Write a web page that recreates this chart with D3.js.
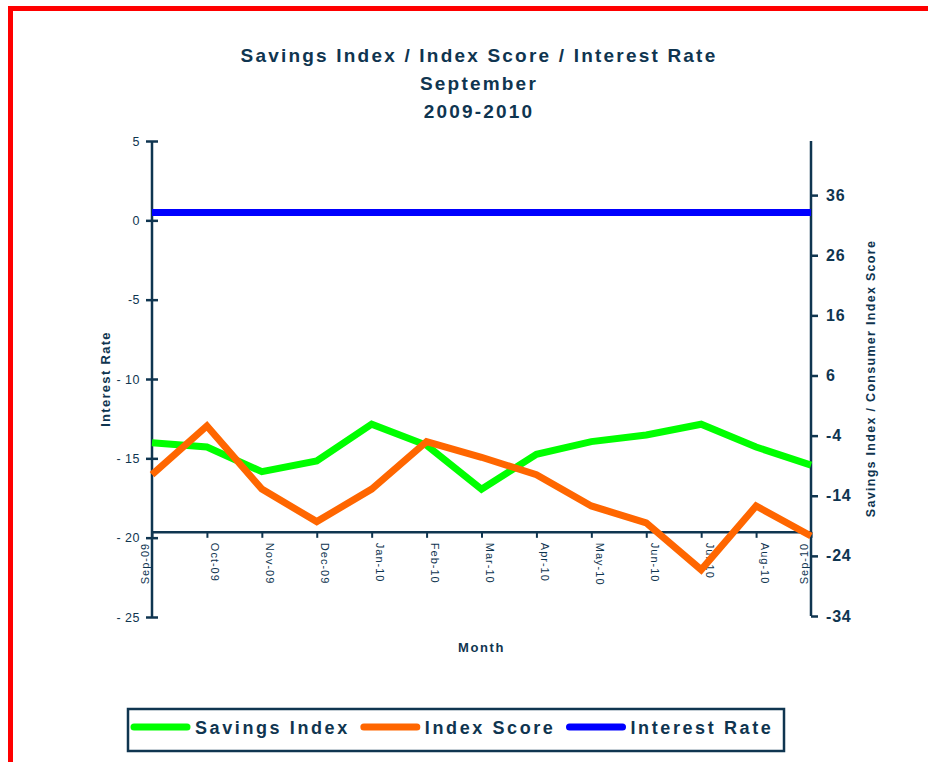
<!DOCTYPE html>
<html>
<head>
<meta charset="utf-8">
<script src="https://cdn.jsdelivr.net/npm/d3@7"></script>
<style>
  body { margin: 0; background: #fff; }
  svg { display: block; font-family: "Liberation Sans", Arial, sans-serif; }
</style>
</head>
<body>
<div class="chart"></div>
<script>
const months = ["Sep-09", "Oct-09", "Nov-09", "Dec-09", "Jan-10", "Feb-10", "Mar-10",
  "Apr-10", "May-10", "Jun-10", "Jul-10", "Aug-10", "Sep-10"];
const savingsIndex = [-5.2, -5.9, -10.0, -8.2, -2.1, -5.6, -12.9, -7.1, -5.0, -3.9, -2.1, -5.9, -8.9];
const indexScore = [-10.5, -2.4, -12.9, -18.3, -12.9, -5.0, -7.6, -10.5, -15.7, -18.5, -26.3, -15.7, -20.7];
const interestRate = [0.5, 0.5, 0.5, 0.5, 0.5, 0.5, 0.5, 0.5, 0.5, 0.5, 0.5, 0.5, 0.5];
const leftTicks = [5, 0, -5, -10, -15, -20, -25];
const rightTicks = [36, 26, 16, 6, -4, -14, -24, -34];
const titleLines = ["Savings Index / Index Score / Interest Rate", "September", "2009-2010"];

const width = 928, height = 762;
const navy = "#0f3550";
const colors = {savings: "#00ff00", score: "#ff6600", rate: "#0000ff"};

const svg = d3.select(".chart").append("svg")
  .attr("width", width)
  .attr("height", height);

// red frame round the page
svg.append("rect")
  .attr("x", 10.5).attr("y", 8.5)
  .attr("width", 930).attr("height", 800)
  .attr("fill", "none")
  .attr("stroke", "#ff0000")
  .attr("stroke-width", 5);

const x = d3.scalePoint(months, [152, 811]);
const yL = d3.scaleLinear([-25, 5], [617, 141]);
const yR = d3.scaleLinear([-34, 45], [616, 141]);

// titles
svg.append("g")
  .selectAll("text")
  .data(titleLines)
  .join("text")
  .attr("x", 479)
  .attr("y", (d, i) => 62 + i * 28)
  .attr("text-anchor", "middle")
  .attr("font-size", 19)
  .attr("font-weight", "bold")
  .attr("letter-spacing", 2.2)
  .attr("fill", navy)
  .text(d => d);

// left axis
const leftAxis = svg.append("g")
  .attr("transform", `translate(${x(months[0])},0)`)
  .call(d3.axisLeft(yL).tickValues(leftTicks).tickSize(6).tickPadding(6)
    .tickFormat(d => d <= -10 ? "- " + Math.abs(d) : String(d)));
leftAxis.select(".domain").attr("stroke", navy).attr("stroke-width", 2.5).attr("d", `M0,${yL(5)}V${yL(-25)}`);
leftAxis.selectAll(".tick line").attr("stroke", navy).attr("stroke-width", 2.5).attr("x1", 6);
leftAxis.selectAll(".tick text")
  .attr("fill", navy).attr("font-size", 12.5).attr("font-family", "Liberation Sans, Arial, sans-serif")
  .attr("letter-spacing", 0.5);

// right axis
const rightAxis = svg.append("g")
  .attr("transform", `translate(${x(months[months.length - 1])},0)`)
  .call(d3.axisRight(yR).tickValues(rightTicks).tickSize(7).tickPadding(8).tickFormat(d => String(d)));
rightAxis.select(".domain").attr("stroke", navy).attr("stroke-width", 2.5).attr("d", `M0,${yR(45)}V${yR(-34)}`);
rightAxis.selectAll(".tick line").attr("stroke", navy).attr("stroke-width", 2.5);
rightAxis.selectAll(".tick text")
  .attr("fill", navy).attr("font-size", 16).attr("font-weight", "bold")
  .attr("font-family", "Liberation Sans, Arial, sans-serif").attr("letter-spacing", 0.8);

// month axis, crossing at -20 on the right scale
const bottomAxis = svg.append("g")
  .attr("transform", `translate(0,${yR(-20)})`)
  .call(d3.axisBottom(x).tickSize(6).tickSizeOuter(0));
bottomAxis.select(".domain").attr("stroke", navy).attr("stroke-width", 2.5);
bottomAxis.selectAll(".tick line").attr("stroke", navy).attr("stroke-width", 2);
bottomAxis.selectAll(".tick text")
  .attr("fill", navy).attr("font-size", 11).attr("font-family", "Liberation Sans, Arial, sans-serif")
  .attr("letter-spacing", 1)
  .attr("dy", null)
  .attr("y", 0)
  .attr("text-anchor", (d, i) => (i === 0 || i === months.length - 1) ? "end" : "start")
  .attr("transform", (d, i) => (i === 0 || i === months.length - 1)
    ? "translate(-4,11) rotate(-90)" : "translate(4,11) rotate(90)");

// axis titles
svg.append("text")
  .attr("transform", `translate(110,${(yL(5) + yL(-25)) / 2}) rotate(-90)`)
  .attr("text-anchor", "middle")
  .attr("font-size", 13).attr("font-weight", "bold")
  .attr("letter-spacing", 1.3)
  .attr("fill", navy)
  .text("Interest Rate");

svg.append("text")
  .attr("transform", `translate(875,${(yR(45) + yR(-34)) / 2}) rotate(-90)`)
  .attr("text-anchor", "middle")
  .attr("font-size", 12.5).attr("font-weight", "bold")
  .attr("letter-spacing", 1.3)
  .attr("fill", navy)
  .text("Savings Index  / Consumer Index Score");

svg.append("text")
  .attr("x", (x.range()[0] + x.range()[1]) / 2)
  .attr("y", 652)
  .attr("text-anchor", "middle")
  .attr("font-size", 13).attr("font-weight", "bold")
  .attr("letter-spacing", 1.6)
  .attr("fill", navy)
  .text("Month");

// series
const series = [
  {name: "Savings Index", values: savingsIndex, y: yR, color: colors.savings},
  {name: "Index Score", values: indexScore, y: yR, color: colors.score},
  {name: "Interest Rate", values: interestRate, y: yL, color: colors.rate}
];

svg.append("g")
  .attr("fill", "none")
  .attr("stroke-width", 7)
  .attr("stroke-linejoin", "miter")
  .selectAll("path")
  .data(series)
  .join("path")
  .attr("stroke", d => d.color)
  .attr("d", s => d3.line()
    .x((v, i) => x(months[i]))
    .y(v => s.y(v))(s.values));

// legend
const legend = svg.append("g");
legend.append("rect")
  .attr("x", 128).attr("y", 709)
  .attr("width", 656).attr("height", 42)
  .attr("fill", "#fff")
  .attr("stroke", navy)
  .attr("stroke-width", 2.5);

let lx = 134;
for (const s of series) {
  legend.append("line")
    .attr("x1", lx).attr("x2", lx + 53)
    .attr("y1", 727).attr("y2", 727)
    .attr("stroke", s.color)
    .attr("stroke-width", 7)
    .attr("stroke-linecap", "round");
  const t = legend.append("text")
    .attr("x", lx + 61)
    .attr("y", 734)
    .attr("font-size", 18).attr("font-weight", "bold")
    .attr("letter-spacing", 2.6)
    .attr("fill", navy)
    .text(s.name);
  lx += 61 + t.node().getComputedTextLength() + 14;
}
</script>
</body>
</html>
